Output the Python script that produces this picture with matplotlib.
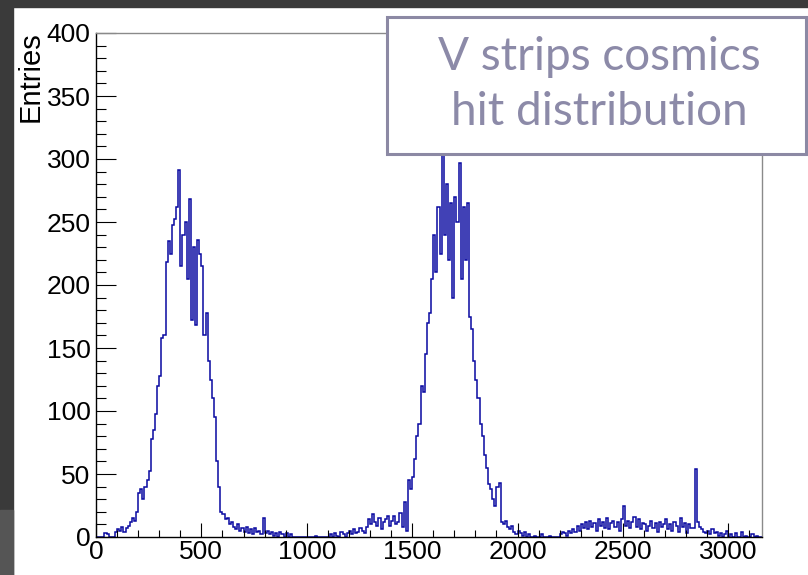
import numpy as np
import matplotlib
matplotlib.use("Agg")
import matplotlib.pyplot as plt
from matplotlib.patches import Rectangle
from matplotlib.ticker import MultipleLocator

# histogram of hits per strip, 10-strip bins from 0 to 3160
bin_width = 10
counts = [
    0, 0, 0, 0, 3, 2, 0, 0, 0, 4,                   # 0-100
    6, 5, 8, 4, 7, 9, 12, 15, 13, 20,               # 100-200
    35, 38, 30, 40, 45, 52, 78, 85, 98, 120,        # 200-300
    128, 158, 160, 218, 235, 225, 248, 252, 262, 291,  # 300-400
    215, 240, 250, 205, 268, 172, 230, 168, 236, 225,  # 400-500
    215, 160, 178, 140, 125, 110, 95, 60, 40, 20,   # 500-600
    18, 14, 15, 10, 12, 8, 6, 10, 5, 7,             # 600-700
    4, 8, 3, 6, 2, 7, 4, 5, 2, 15,                  # 700-800
    3, 5, 2, 4, 1, 3, 0, 4, 2, 0,                   # 800-900
    3, 0, 2, 0, 0, 0, 0, 0, 0, 0,                   # 900-1000
    0, 0, 0, 0, 1, 0, 0, 0, 0, 0,                   # 1000-1100
    0, 2, 0, 3, 1, 0, 4, 2, 0, 3,                   # 1100-1200
    5, 2, 6, 3, 4, 7, 5, 3, 8, 14,                  # 1200-1300
    10, 18, 12, 9, 15, 6, 12, 14, 17, 9,            # 1300-1400
    13, 17, 10, 12, 19, 8, 28, 5, 45, 38,           # 1400-1500
    48, 62, 80, 90, 120, 115, 145, 170, 178, 205,   # 1500-1600
    240, 210, 262, 225, 305, 240, 280, 220, 265, 190,  # 1600-1700
    270, 250, 297, 205, 262, 220, 265, 175, 165, 140,  # 1700-1800
    125, 110, 90, 80, 65, 55, 42, 38, 30, 25,       # 1800-1900
    40, 43, 12, 10, 13, 8, 6, 9, 4, 2,              # 1900-2000
    5, 3, 1, 4, 0, 2, 0, 0, 1, 0,                   # 2000-2100
    0, 2, 0, 0, 0, 1, 0, 0, 0, 0,                   # 2100-2200
    2, 4, 3, 1, 5, 3, 6, 4, 9, 5,                   # 2200-2300
    10, 7, 12, 6, 13, 8, 11, 5, 14, 9,              # 2300-2400
    12, 7, 15, 6, 11, 13, 8, 12, 5, 14,             # 2400-2500
    25, 9, 13, 7, 12, 16, 8, 14, 6, 11,             # 2500-2600
    10, 5, 9, 13, 7, 11, 4, 12, 8, 10,              # 2600-2700
    14, 6, 10, 5, 12, 9, 4, 15, 8, 11,              # 2700-2800
    3, 10, 7, 7, 54, 12, 8, 6, 4, 3,                # 2800-2900
    5, 2, 6, 3, 4, 1, 3, 0, 2, 5,                   # 2900-3000
    0, 2, 0, 3, 0, 0, 4, 0, 1, 0,                   # 3000-3100
    0, 2, 0, 1, 0, 0,                               # 3100-3160
]
x_max = 3160
y_max = 400
title_lines = ["V strips cosmics", "hit distribution"]
y_title = "Entries"

edges = np.arange(len(counts) + 1) * bin_width

W, H = 808, 575
fig = plt.figure(figsize=(W / 100, H / 100), dpi=100)
fig.patch.set_facecolor("white")

# slide background bits around the pasted plot
fig.add_artist(Rectangle((0, 1 - 7 / H), 1, 7 / H, transform=fig.transFigure,
                         color="#3a3a3a", zorder=0))
fig.add_artist(Rectangle((0, 0), 13 / W, 1, transform=fig.transFigure,
                         color="#3a3a3a", zorder=0))
fig.add_artist(Rectangle((0, 0), 13 / W, 65 / H, transform=fig.transFigure,
                         color="#555555", zorder=0))

ax = fig.add_axes([96 / W, 1 - 537 / H, 666 / W, 504 / H])
ax.stairs(counts, edges, color="#0808a0", lw=1.1)

ax.set_xlim(0, x_max)
ax.set_ylim(0, y_max)
ax.xaxis.set_major_locator(MultipleLocator(500))
ax.xaxis.set_minor_locator(MultipleLocator(100))
ax.yaxis.set_major_locator(MultipleLocator(50))
ax.yaxis.set_minor_locator(MultipleLocator(10))
ax.tick_params(axis="both", which="both", direction="in", top=False, right=False,
               width=0.8, color="black")
ax.tick_params(axis="y", which="major", length=14.4, pad=4)
ax.tick_params(axis="y", which="minor", length=7.2)
ax.tick_params(axis="x", which="major", length=10, pad=2)
ax.tick_params(axis="x", which="minor", length=5)
for lab in ax.get_xticklabels() + ax.get_yticklabels():
    lab.set_fontfamily("Liberation Sans")
    lab.set_fontsize(19)
for side in ("left", "bottom"):
    ax.spines[side].set_color("black")
    ax.spines[side].set_linewidth(1.0)
for side in ("top", "right"):
    ax.spines[side].set_color("#8a8a8a")
    ax.spines[side].set_linewidth(1.0)

fig.text(31 / W, 1 - 31 / H, y_title, rotation=90, ha="center", va="top",
         fontsize=21, family="Liberation Sans")

# title box on top of the frame
fig.add_artist(Rectangle((387 / W, 1 - 154 / H), 419 / W, 137 / H,
                         transform=fig.transFigure, facecolor="white",
                         edgecolor="#8c89a4", lw=2.2, zorder=5))
fig.text(599 / W, 1 - 57 / H, title_lines[0], ha="center", va="center",
         fontsize=33, family="Lato", color="#8c8aa8", zorder=6)
fig.text(599 / W, 1 - 112 / H, title_lines[1], ha="center", va="center",
         fontsize=33, family="Lato", color="#8c8aa8", zorder=6)

fig.savefig("out.png", dpi=100)
